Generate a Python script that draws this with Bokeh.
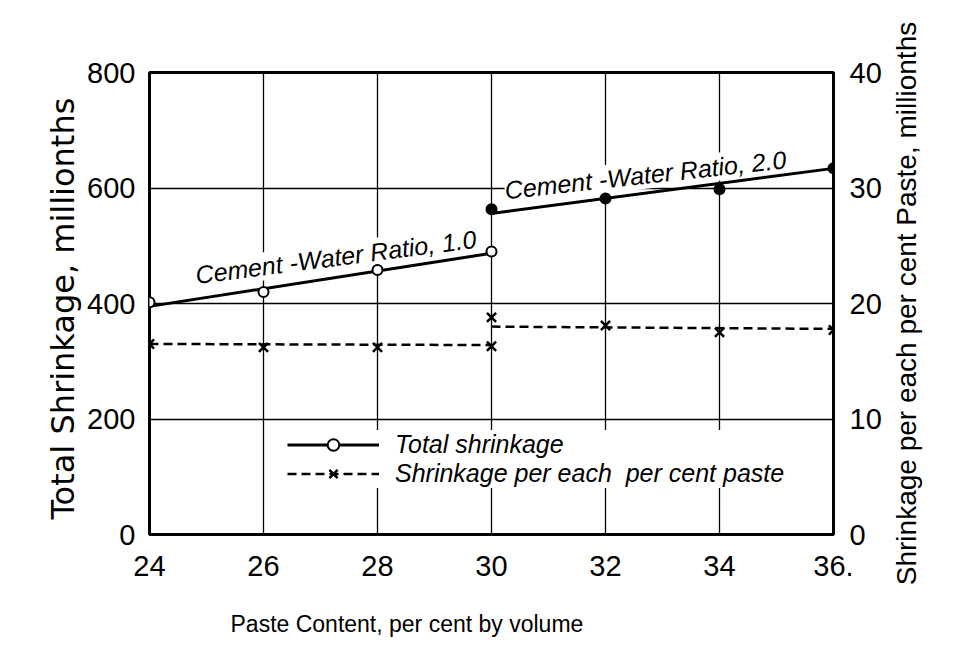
from bokeh.plotting import figure
from bokeh.layouts import row
from bokeh.models import (Range1d, LinearAxis, FixedTicker, Label, Legend, LegendItem, Title)
from bokeh.embed import file_html
from bokeh.resources import INLINE

# ---- data ----
x_ticks = [24, 26, 28, 30, 32, 34, 36]
y_ticks = [0, 200, 400, 600, 800]
y2_ticks = [0, 10, 20, 30, 40]

# Total shrinkage, cement-water ratio 1.0 (open circles)
paste_cw1 = [24, 26, 28, 30]
total_cw1 = [402, 420, 458, 490]
# Total shrinkage, cement-water ratio 2.0 (filled circles)
paste_cw2 = [30, 32, 34, 36]
total_cw2 = [563, 582, 598, 634]
# Drawn trend lines of total shrinkage
trend_x1 = [24, 30]
trend_y1 = [395, 487]
trend_x2 = [30, 36]
trend_y2 = [556, 634]

# Shrinkage per each per cent paste (x markers, right axis)
per_cw1 = [16.5, 16.2, 16.2, 16.3]
per_cw2 = [18.8, 18.1, 17.5, 17.7]
per_trend_y1 = [16.5, 16.4]
per_trend_y2 = [18.0, 17.8]

SANS = "Liberation Sans"

p = figure(width=886, height=666, x_range=Range1d(24, 36), y_range=Range1d(0, 800),
           output_backend="svg", toolbar_location=None,
           min_border_left=149, min_border_right=53, min_border_top=72, min_border_bottom=131)
p.extra_y_ranges = {"right": Range1d(0, 40)}
p.background_fill_color = "white"
p.border_fill_color = "white"
p.outline_line_color = "black"
p.outline_line_width = 3

# grids
p.xgrid.grid_line_color = "black"
p.xgrid.grid_line_width = 1.3
p.ygrid.grid_line_color = "black"
p.ygrid.grid_line_width = 1.3

# axes
xa = p.xaxis[0]
xa.ticker = FixedTicker(ticks=x_ticks)
xa.major_label_overrides = {36: "36."}
ya = p.yaxis[0]
ya.ticker = FixedTicker(ticks=y_ticks)
ya.axis_label = "Total  Shrinkage, millionths"
ya.axis_label_text_font = "DejaVu Sans"
ya.axis_label_text_font_size = "32px"

ra = LinearAxis(y_range_name="right", ticker=FixedTicker(ticks=y2_ticks))
p.add_layout(ra, "right")

for ax in (xa, ya, ra):
    ax.axis_line_color = None
    ax.major_tick_line_color = None
    ax.minor_tick_line_color = None
    ax.major_label_text_font = SANS
    ax.major_label_text_font_size = "29px"
    ax.major_label_text_color = "black"
    ax.axis_label_text_font_style = "normal"
    ax.axis_label_text_color = "black"
xa.major_label_standoff = 15
ya.major_label_standoff = 8
ra.major_label_standoff = 10
ya.axis_label_standoff = 2

# annotation labels (drawn under glyphs, over grid)
lab1 = Label(x=24.84, y=425, text="Cement -Water Ratio, 1.0", angle=7.4, angle_units="deg",
             text_font=SANS, text_font_style="italic", text_font_size="25px",
             text_color="black", background_fill_color="white", level="underlay")
lab2 = Label(x=30.26, y=572, text="Cement -Water Ratio, 2.0", angle=6.3, angle_units="deg",
             text_font=SANS, text_font_style="italic", text_font_size="25px",
             text_color="black", background_fill_color="white", level="underlay")
p.add_layout(lab1)
p.add_layout(lab2)

# total shrinkage
t1 = p.line(trend_x1, trend_y1, line_color="black", line_width=3)
p.line(trend_x2, trend_y2, line_color="black", line_width=3)
c1 = p.scatter(paste_cw1, total_cw1, marker="circle", size=10, fill_color="white",
               line_color="black", line_width=2)
p.scatter(paste_cw2, total_cw2, marker="circle", size=10, fill_color="black",
          line_color="black", line_width=2)

# shrinkage per each per cent paste
d1 = p.line(trend_x1, per_trend_y1, y_range_name="right", line_color="black",
            line_width=2.5, line_dash="9 5")
p.line(trend_x2, per_trend_y2, y_range_name="right", line_color="black",
       line_width=2.5, line_dash="9 5")
x1 = p.scatter(paste_cw1, per_cw1, y_range_name="right", marker="x", size=13,
               line_color="black", line_width=2.5)
p.scatter(paste_cw2, per_cw2, y_range_name="right", marker="x", size=13,
          line_color="black", line_width=2.5)

legend = Legend(items=[LegendItem(label="Total shrinkage", renderers=[t1, c1]),
                       LegendItem(label="Shrinkage per each  per cent paste", renderers=[d1, x1])],
                location=(138, 46), glyph_width=92, glyph_height=29, label_height=29,
                spacing=0, padding=4, margin=0, label_standoff=16,
                label_text_font=SANS, label_text_font_style="italic",
                label_text_font_size="25px", label_text_color="black",
                background_fill_color="white", background_fill_alpha=1.0,
                border_line_color=None)
p.add_layout(legend)

# x axis title (sits left of the frame centre in the reference)
xt = Title(text="Paste Content, per cent by volume", align="left", offset=81,
           text_font=SANS, text_font_size="23px", text_font_style="normal",
           text_color="black", standoff=60)
p.add_layout(xt, "below")

# narrow companion figure carrying the right-hand axis title, reading bottom-to-top
p2 = figure(width=76, height=666, x_range=Range1d(0, 1), y_range=Range1d(0, 1),
            output_backend="svg", toolbar_location=None,
            min_border_left=0, min_border_right=0, min_border_top=72, min_border_bottom=131)
p2.outline_line_color = None
p2.background_fill_color = "white"
p2.border_fill_color = "white"
p2.xgrid.visible = False
p2.ygrid.visible = False
p2.xaxis.visible = False
p2.yaxis.visible = False
rt = Title(text="Shrinkage per each per cent Paste, millionths", align="center", offset=-42,
           text_font=SANS, text_font_size="28px", text_font_style="normal",
           text_color="black", standoff=4)
p2.add_layout(rt, "left")

open("out.html", "w").write(file_html(row(p, p2), INLINE))
